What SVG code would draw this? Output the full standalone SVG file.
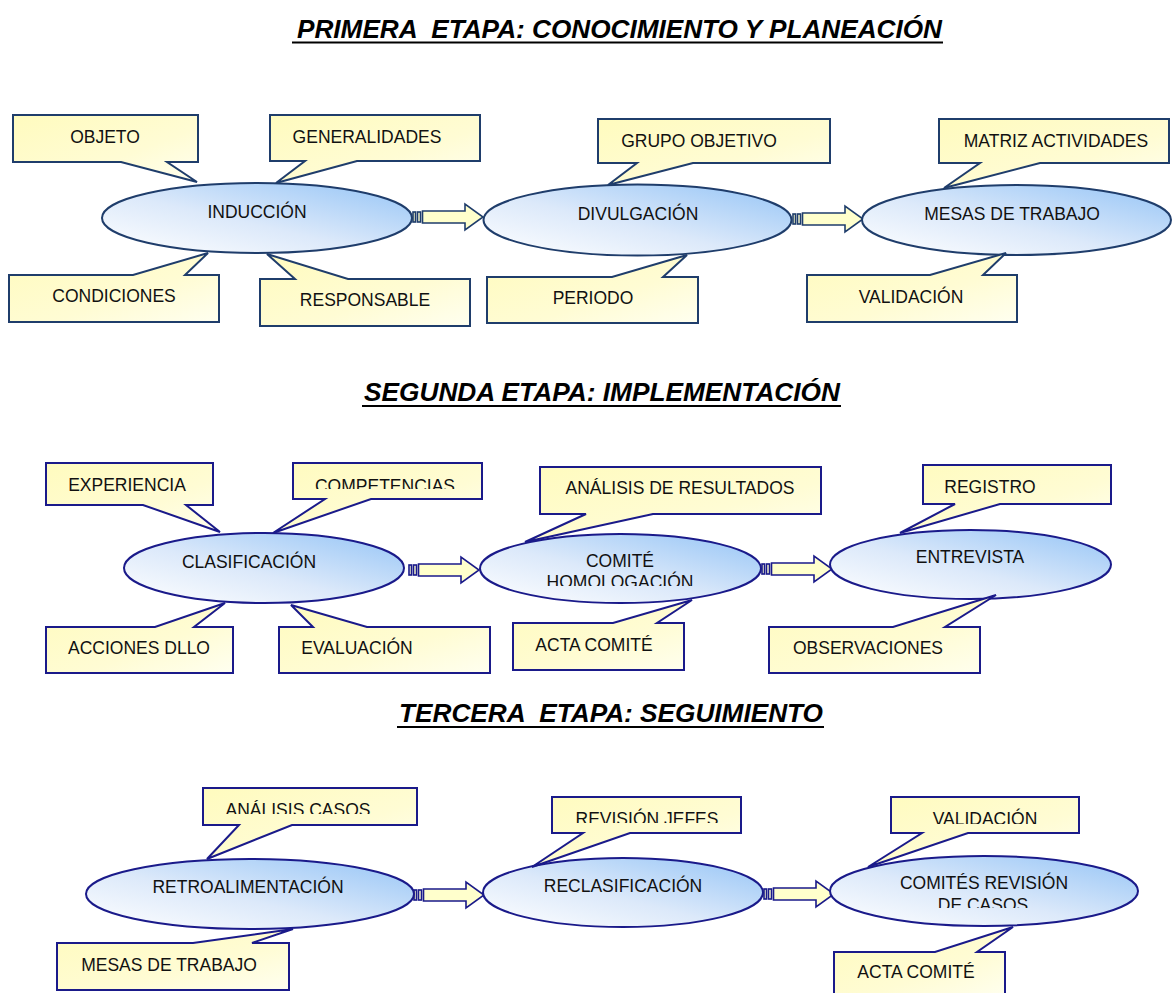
<svg xmlns="http://www.w3.org/2000/svg" width="1174" height="993" viewBox="0 0 1174 993">
  <defs>
    <linearGradient id="gEll" x1="0" y1="1" x2="1" y2="0">
      <stop offset="0" stop-color="#FFFFFF"/>
      <stop offset="0.45" stop-color="#DCE9FA"/>
      <stop offset="1" stop-color="#94C4F6"/>
    </linearGradient>
    <linearGradient id="gNote" x1="0" y1="0" x2="1" y2="1">
      <stop offset="0" stop-color="#FFFBBE"/>
      <stop offset="0.6" stop-color="#FFFCD4"/>
      <stop offset="1" stop-color="#FFFFF0"/>
    </linearGradient>
    <clipPath id="cCompet"><rect x="290" y="460" width="200" height="29"/></clipPath>
    <clipPath id="cHomolog"><rect x="500" y="570" width="240" height="16"/></clipPath>
    <clipPath id="cAnalisisC"><rect x="200" y="785" width="220" height="29"/></clipPath>
    <clipPath id="cRevision"><rect x="550" y="795" width="200" height="28"/></clipPath>
    <clipPath id="cValid3"><rect x="890" y="795" width="200" height="29"/></clipPath>
    <clipPath id="cDeCasos"><rect x="900" y="893" width="170" height="15"/></clipPath>
    <g id="arrow">
      <rect x="0" y="-5" width="2.5" height="10"/>
      <rect x="4.5" y="-5" width="3" height="10"/>
      <path d="M9.5,-6 H52 V-13 L70,0 L52,13 V6 H9.5 Z"/>
    </g>
  </defs>
  <style>
    .t { font-family: "Liberation Sans", Arial, Helvetica, sans-serif; font-size: 17.5px; fill: #111; text-anchor: middle; }
    .title { font-family: "Liberation Sans", Arial, Helvetica, sans-serif; font-size: 25px; font-weight: bold; font-style: italic; fill: #000; white-space: pre; }
    .narrow { font-family: "Liberation Sans Narrow", "Arial Narrow", "Liberation Sans", Arial, sans-serif; font-size: 26px; }
    .ul { stroke: #000; stroke-width: 2.2; }
    .ell { fill: url(#gEll); stroke-width: 2; }
    .note { fill: url(#gNote); stroke-width: 2; stroke-linejoin: miter; }
    .s1 { stroke: #1F3D6B; }
    .s2 { stroke: #1A1A8A; }
    .arr { fill: #FFFFCC; stroke-width: 1.6; }
  </style>
  <rect width="1174" height="993" fill="#FFFFFF"/>

  <!-- stage headings -->
  <g id="titles">
    <text class="title narrow" x="297" y="38" textLength="645" lengthAdjust="spacingAndGlyphs" xml:space="preserve">PRIMERA  ETAPA: CONOCIMIENTO Y PLANEACIÓN</text>
    <line class="ul" x1="292" y1="42.5" x2="943" y2="42.5"/>
    <text class="title" x="364" y="401" textLength="476" lengthAdjust="spacingAndGlyphs">SEGUNDA ETAPA: IMPLEMENTACIÓN</text>
    <line class="ul" x1="362" y1="406" x2="841" y2="406"/>
    <text class="title" x="399" y="722" textLength="424" lengthAdjust="spacingAndGlyphs" xml:space="preserve">TERCERA  ETAPA: SEGUIMIENTO</text>
    <line class="ul" x1="397" y1="727" x2="824" y2="727"/>
  </g>

  <!-- connectors between stages -->
  <g id="connectors" class="arr">
    <use href="#arrow" class="s1" transform="translate(413,217)"/>
    <use href="#arrow" class="s1" transform="translate(793,219)"/>
    <use href="#arrow" class="s2" transform="translate(409,570)"/>
    <use href="#arrow" class="s2" transform="translate(762,569)"/>
    <use href="#arrow" class="s2" transform="translate(414,895)"/>
    <use href="#arrow" class="s2" transform="translate(764,894)"/>
  </g>

  <!-- ================= stage 1 ================= -->
  <g id="induccion">
    <ellipse class="ell s1" cx="257" cy="218" rx="155" ry="35"/>
    <text class="t" x="257" y="218">INDUCCIÓN</text>
  </g>
  <g id="objeto">
    <path class="note s1" d="M13,115 H198 V162 H167 L197,182 L121,162 H13 Z"/>
    <text class="t" x="105" y="143">OBJETO</text>
  </g>
  <g id="generalidades">
    <path class="note s1" d="M270,115 H480 V161 H357 L276,183 L305,161 H270 Z"/>
    <text class="t" x="367" y="143">GENERALIDADES</text>
  </g>
  <g id="condiciones">
    <path class="note s1" d="M9,275 H133 L208,253 L185,275 H219 V322 H9 Z"/>
    <text class="t" x="114" y="302">CONDICIONES</text>
  </g>
  <g id="responsable">
    <path class="note s1" d="M260,279 H295 L267,254 L348,279 H470 V326 H260 Z"/>
    <text class="t" x="365" y="306">RESPONSABLE</text>
  </g>

  <g id="divulgacion">
    <ellipse class="ell s1" cx="637.5" cy="220" rx="154" ry="35.5"/>
    <text class="t" x="638" y="220">DIVULGACIÓN</text>
  </g>
  <g id="grupo-objetivo">
    <path class="note s1" d="M598,119 H830 V163 H693 L608,185 L637,163 H598 Z"/>
    <text class="t" x="699" y="147">GRUPO OBJETIVO</text>
  </g>
  <g id="periodo">
    <path class="note s1" d="M487,277 H612 L687,255 L663,277 H698 V323 H487 Z"/>
    <text class="t" x="593" y="304">PERIODO</text>
  </g>

  <g id="mesas-trabajo-1">
    <ellipse class="ell s1" cx="1016.5" cy="220" rx="154.5" ry="35"/>
    <text class="t" x="1012" y="220">MESAS DE TRABAJO</text>
  </g>
  <g id="matriz">
    <path class="note s1" d="M939,119 H1169 V163 H1040 L944,188 L980,163 H939 Z"/>
    <text class="t" x="1056" y="147">MATRIZ ACTIVIDADES</text>
  </g>
  <g id="validacion-1">
    <path class="note s1" d="M807,275 H930 L1006,253 L983,275 H1017 V322 H807 Z"/>
    <text class="t" x="911" y="303">VALIDACIÓN</text>
  </g>

  <!-- ================= stage 2 ================= -->
  <g id="clasificacion">
    <ellipse class="ell s2" cx="264" cy="568" rx="140" ry="35"/>
    <text class="t" x="249" y="568">CLASIFICACIÓN</text>
  </g>
  <g id="experiencia">
    <path class="note s2" d="M46,463 H213 V505 H186 L220,532 L143,505 H46 Z"/>
    <text class="t" x="127" y="491">EXPERIENCIA</text>
  </g>
  <g id="competencias">
    <path class="note s2" d="M293,463 H482 V499 H371 L273,533 L325,499 H293 Z"/>
    <text class="t" x="385" y="492" clip-path="url(#cCompet)">COMPETENCIAS</text>
  </g>
  <g id="acciones">
    <path class="note s2" d="M46,627 H155 L225,603 L194,627 H233 V673 H46 Z"/>
    <text class="t" x="139" y="654">ACCIONES DLLO</text>
  </g>
  <g id="evaluacion">
    <path class="note s2" d="M279,627 H313 L291,605 L367,627 H490 V673 H279 Z"/>
    <text class="t" x="357" y="654">EVALUACIÓN</text>
  </g>

  <g id="comite-homologacion">
    <ellipse class="ell s2" cx="620.5" cy="568.5" rx="140.5" ry="34.5"/>
    <text class="t" x="620" y="567">COMITÉ</text>
    <text class="t" x="620" y="588" clip-path="url(#cHomolog)">HOMOLOGACIÓN</text>
  </g>
  <g id="analisis-resultados">
    <path class="note s2" d="M540,467 H821 V514 H653 L525,542 L586,514 H540 Z"/>
    <text class="t" x="680" y="494">ANÁLISIS DE RESULTADOS</text>
  </g>
  <g id="acta-comite-1">
    <path class="note s2" d="M513,623 H613 L692,600 L657,623 H684 V670 H513 Z"/>
    <text class="t" x="594" y="651">ACTA COMITÉ</text>
  </g>

  <g id="entrevista">
    <ellipse class="ell s2" cx="970.5" cy="564.5" rx="140.5" ry="34.5"/>
    <text class="t" x="970" y="563">ENTREVISTA</text>
  </g>
  <g id="registro">
    <path class="note s2" d="M923,465 H1111 V504 H1000 L900,533 L955,504 H923 Z"/>
    <text class="t" x="990" y="493">REGISTRO</text>
  </g>
  <g id="observaciones">
    <path class="note s2" d="M769,627 H893 L996,595 L945,627 H980 V673 H769 Z"/>
    <text class="t" x="868" y="654">OBSERVACIONES</text>
  </g>

  <!-- ================= stage 3 ================= -->
  <g id="retroalimentacion">
    <ellipse class="ell s2" cx="250" cy="894" rx="164" ry="35"/>
    <text class="t" x="248" y="893">RETROALIMENTACIÓN</text>
  </g>
  <g id="analisis-casos">
    <path class="note s2" d="M203,788 H417 V825 H292 L207,859 L239,825 H203 Z"/>
    <text class="t" x="298" y="816" clip-path="url(#cAnalisisC)">ANÁLISIS CASOS</text>
  </g>
  <g id="mesas-trabajo-3">
    <path class="note s2" d="M57,943 H193 L293,929 L252,943 H289 V990 H57 Z"/>
    <text class="t" x="169" y="971">MESAS DE TRABAJO</text>
  </g>

  <g id="reclasificacion">
    <ellipse class="ell s2" cx="623" cy="892.5" rx="140" ry="34.5"/>
    <text class="t" x="623" y="892">RECLASIFICACIÓN</text>
  </g>
  <g id="revision-jefes">
    <path class="note s2" d="M552,797 H741 V833 H630 L532,867 L583,833 H552 Z"/>
    <text class="t" x="647" y="825" clip-path="url(#cRevision)">REVISIÓN JEFES</text>
  </g>

  <g id="comites-revision">
    <ellipse class="ell s2" cx="984" cy="891" rx="154" ry="35"/>
    <text class="t" x="984" y="889">COMITÉS REVISIÓN</text>
    <text class="t" x="983" y="911" clip-path="url(#cDeCasos)">DE CASOS</text>
  </g>
  <g id="validacion-3">
    <path class="note s2" d="M891,797 H1079 V833 H968 L868,867 L922,833 H891 Z"/>
    <text class="t" x="985" y="825" clip-path="url(#cValid3)">VALIDACIÓN</text>
  </g>
  <g id="acta-comite-3">
    <path class="note s2" d="M834,952 H935 L1013,927 L977,952 H1005 V996 H834 Z"/>
    <text class="t" x="916" y="978">ACTA COMITÉ</text>
  </g>
</svg>
